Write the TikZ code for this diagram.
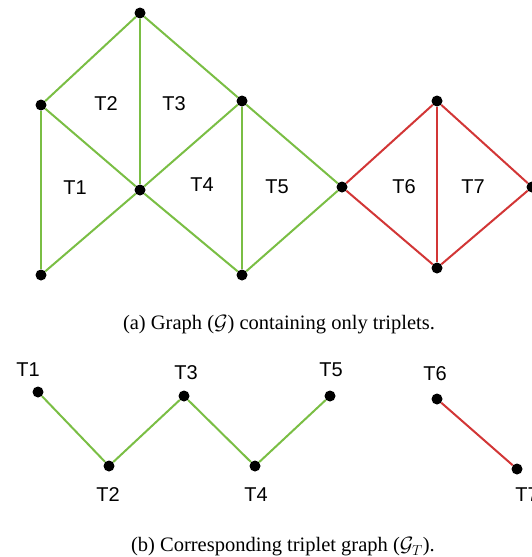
\documentclass[tikz,border=0pt]{standalone}
\usepackage{fontspec}
\setmainfont{Liberation Serif}
\newfontfamily\labelfont{Liberation Sans}
\usetikzlibrary{positioning}
\definecolor{tgreen}{RGB}{122,190,68}
\definecolor{tred}{RGB}{210,54,54}

\begin{document}
\begin{tikzpicture}[x=1pt, y=-1pt,
	vertex/.style={circle, fill=black, inner sep=0pt, minimum size=11pt},
	tri/.style={font=\labelfont\fontsize{20}{20}\selectfont},
	subcap/.style={font=\fontsize{20.5}{20.5}\selectfont},
	ok/.style={draw=tgreen, line width=2pt},
	bad/.style={draw=tred, line width=2pt}]
		\useasboundingbox (0,0) rectangle (531,557);
		% graph G
		\node[vertex] (g_top) at (140,13) {};
		\node[vertex] (g_lu) at (41,105) {};
		\node[vertex] (g_mid) at (140,190) {};
		\node[vertex] (g_ld) at (41,275) {};
		\node[vertex] (g_ru) at (242,101) {};
		\node[vertex] (g_rd) at (242,275) {};
		\node[vertex] (g_join) at (342,187) {};
		\node[vertex] (g_rtop) at (437,101) {};
		\node[vertex] (g_rbot) at (437,268) {};
		\node[vertex] (g_rend) at (532,187) {};
		\draw[ok] (g_top) edge (g_lu) edge (g_mid) edge (g_ru);
		\draw[ok] (g_lu) edge (g_mid) edge (g_ld);
		\draw[ok] (g_mid) edge (g_ld) edge (g_ru) edge (g_rd);
		\draw[ok] (g_ru) edge (g_rd) edge (g_join);
		\draw[ok] (g_rd) edge (g_join);
		\draw[bad] (g_join) edge (g_rtop) edge (g_rbot);
		\draw[bad] (g_rtop) edge (g_rbot) edge (g_rend);
		\draw[bad] (g_rbot) edge (g_rend);
		\node[tri] (g_t1) at (75,188) {T1};
		\node[tri] (g_t2) at (106,104) {T2};
		\node[tri] (g_t3) at (174,104) {T3};
		\node[tri] (g_t4) at (202,185) {T4};
		\node[tri] (g_t5) at (277,187) {T5};
		\node[tri] (g_t6) at (404,187) {T6};
		\node[tri] (g_t7) at (473,187) {T7};
		\node[subcap] (cap_a) at (279,325) {(a) Graph ($\mathcal{G}$) containing only triplets.};
		% triplet graph G_T
		\node[vertex] (gt_1) at (38,392) {};
		\node[vertex] (gt_2) at (109,466) {};
		\node[vertex] (gt_3) at (184,396) {};
		\node[vertex] (gt_4) at (255,466) {};
		\node[vertex] (gt_5) at (330,396) {};
		\node[vertex] (gt_6) at (437,399) {};
		\node[vertex] (gt_7) at (517,469) {};
		\draw[ok] (gt_1) edge (gt_2);
		\draw[ok] (gt_2) edge (gt_3);
		\draw[ok] (gt_3) edge (gt_4);
		\draw[ok] (gt_4) edge (gt_5);
		\draw[bad] (gt_6) edge (gt_7);
		\node[tri] (gt_t1) at (28,370) {T1};
		\node[tri] (gt_t2) at (108,495) {T2};
		\node[tri] (gt_t3) at (186,373) {T3};
		\node[tri] (gt_t4) at (256,495) {T4};
		\node[tri] (gt_t5) at (331,370) {T5};
		\node[tri] (gt_t6) at (435,374) {T6};
		\node[tri] (gt_t7) at (527,495) {T7};
		\node[subcap] (cap_b) at (283,547) {(b) Corresponding triplet graph ($\mathcal{G}_T$).};
	\end{tikzpicture}
\end{document}
